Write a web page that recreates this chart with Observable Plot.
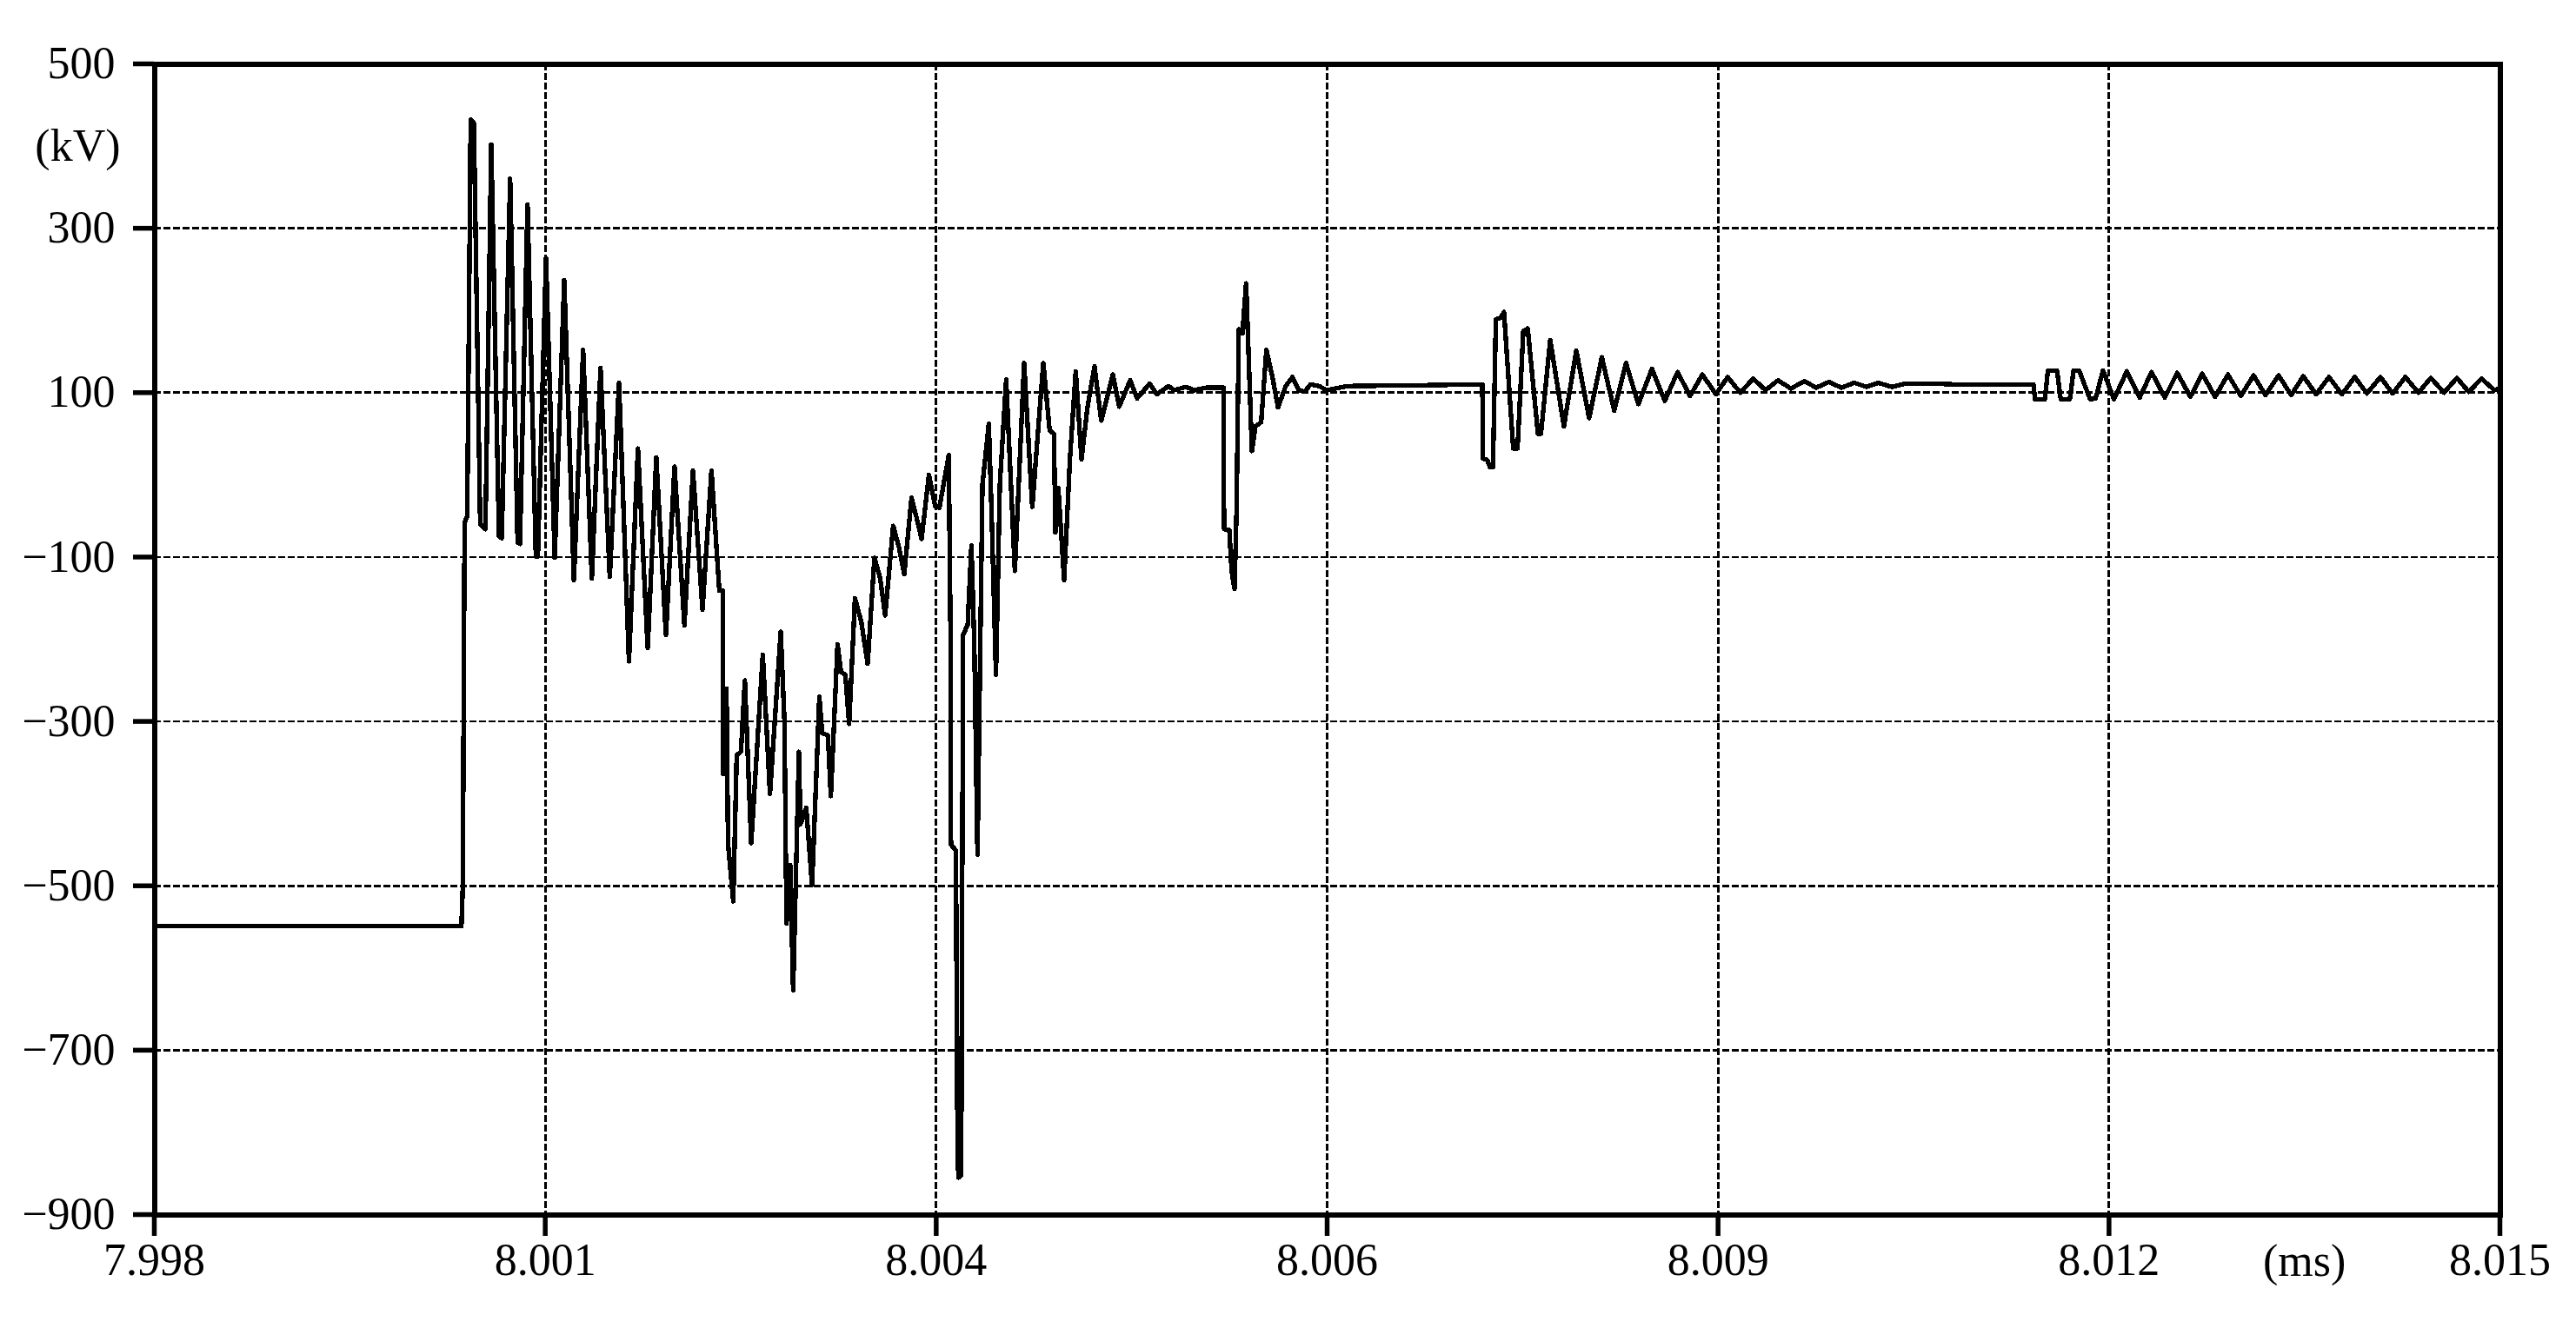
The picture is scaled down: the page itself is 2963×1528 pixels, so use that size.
<!DOCTYPE html>
<html>
<head>
<meta charset="utf-8">
<script src="https://cdn.jsdelivr.net/npm/d3@7"></script>
<script src="https://cdn.jsdelivr.net/npm/@observablehq/plot@0.6"></script>
<style>
html, body { margin: 0; padding: 0; background: #fff; }
</style>
</head>
<body>
<div id="chart"></div>
<script>
// Axis ticks
const xTicks = [7.998, 8.0008333, 8.0036667, 8.0065, 8.0093333, 8.0121667, 8.015];
const xTickLabels = ["7.998", "8.001", "8.004", "8.006", "8.009", "8.012", "8.015"];
const yTicks = [500, 300, 100, -100, -300, -500, -700, -900];

// Segment A: steady state and first oscillation burst (ms, kV)
const segA_t = [7.998, 8.000226, 8.000236, 8.000244, 8.000249, 8.000268, 8.000293, 8.000316, 8.000362, 8.000400,
  8.000442, 8.000498, 8.000518, 8.000579, 8.000633, 8.000650, 8.000705, 8.000765, 8.000780, 8.000839,
  8.000902, 8.000971, 8.001041, 8.001108, 8.001171, 8.001234, 8.001301, 8.001368, 8.001440, 8.001505,
  8.001576, 8.001638, 8.001708, 8.001770, 8.001842, 8.001904, 8.001973, 8.002038, 8.002095, 8.002120];
const segA_v = [-549, -549, -500, -210, -58, -50, 432, 428, -60, -66,
  402, -75, -77, 360, -82, -84, 329, -99, -99, 264,
  -101, 237, -128, 152, -126, 130, -124, 112, -227, 32,
  -211, 21, -195, 10, -183, 5, -164, 5, -141, -141];

// Segment B: deep negative excursion and recovery
const segB_t = [8.002124, 8.002147, 8.002158, 8.002196, 8.002221, 8.002252, 8.002280, 8.002326, 8.002410, 8.002462,
  8.002540, 8.002567, 8.002582, 8.002609, 8.002630, 8.002672, 8.002683, 8.002725, 8.002767, 8.002820,
  8.002840, 8.002882, 8.002903, 8.002952, 8.002977, 8.003008, 8.003036, 8.003078, 8.003124, 8.003170,
  8.003219, 8.003260, 8.003297, 8.003355, 8.003397, 8.003435, 8.003488, 8.003523, 8.003561, 8.003614,
  8.003660, 8.003690, 8.003758, 8.003770, 8.003774, 8.003810, 8.003818, 8.003827, 8.003848, 8.003856,
  8.003862, 8.003895, 8.003922, 8.003943, 8.003966, 8.004002, 8.004048, 8.004069, 8.004100, 8.004128,
  8.004174, 8.004237, 8.004304, 8.004363, 8.004443, 8.004489, 8.004520, 8.004531, 8.004552, 8.004594,
  8.004636, 8.004678, 8.004720, 8.004762, 8.004814, 8.004863, 8.004947, 8.004993, 8.005073, 8.005123,
  8.005213, 8.005266, 8.005350, 8.005392, 8.005476, 8.005539, 8.005623, 8.005749];
const segB_v = [-364, -260, -448, -519, -341, -337, -250, -448, -219, -388,
  -191, -300, -546, -475, -627, -337, -425, -405, -499, -270,
  -314, -317, -391, -206, -240, -243, -303, -150, -179, -230,
  -101, -125, -171, -62, -88, -121, -28, -51, -78, 0,
  -39, -40, 24, -186, -450, -457, -750, -855, -852, -469,
  -195, -182, -86, -206, -462, -12, 62, -51, -243, -12,
  116, -117, 136, -39, 136, 54, 50, -70, -16, -128,
  19, 126, 19, 81, 132, 66, 122, 83, 115, 93,
  111, 98, 108, 103, 107, 103, 106, 106];

// Segment C: second and third disturbances with ring-down
const segC_t = [8.005753, 8.005791, 8.005808, 8.005829, 8.005844, 8.005860, 8.005886, 8.005913, 8.005955, 8.005980,
  8.006022, 8.006060, 8.006106, 8.006144, 8.006200, 8.006249, 8.006295, 8.006337, 8.006379, 8.006442,
  8.006495, 8.006652, 8.007177, 8.007625, 8.007629, 8.007660, 8.007681, 8.007702, 8.007723, 8.007755,
  8.007782, 8.007849, 8.007880, 8.007922, 8.007954, 8.008028, 8.008050, 8.008117, 8.008216, 8.008306,
  8.008399, 8.008491, 8.008581, 8.008666, 8.008756, 8.008854, 8.008947, 8.009040, 8.009130, 8.009220,
  8.009318, 8.009403, 8.009495, 8.009588, 8.009678, 8.009768, 8.009861, 8.009960, 8.010044, 8.010137,
  8.010227, 8.010320, 8.010410, 8.010494, 8.010593, 8.010691, 8.010888, 8.011056, 8.011250, 8.011620];
const segC_v = [-66, -67, -117, -139, -40, 177, 172, 233, 29, 59,
  64, 152, 117, 82, 108, 119, 103, 101, 110, 108,
  103, 108, 109, 110, 20, 18, 9, 9, 189, 191,
  198, 32, 32, 175, 178, 50, 50, 164, 59, 151,
  69, 143, 78, 136, 86, 129, 90, 125, 96, 122,
  98, 119, 100, 117, 103, 115, 105, 114, 106, 113,
  106, 112, 107, 112, 107, 111, 111, 110, 110, 110];

// Segment D: final small oscillation
const segD_t = [8.011630, 8.011702, 8.011724, 8.011790, 8.011817, 8.011883, 8.011910, 8.011950, 8.012030, 8.012070,
  8.012123, 8.012203, 8.012296, 8.012389, 8.012475, 8.012571, 8.012661, 8.012757, 8.012842, 8.012936,
  8.013029, 8.013122, 8.013215, 8.013300, 8.013396, 8.013487, 8.013575, 8.013668, 8.013761, 8.013855,
  8.013948, 8.014036, 8.014134, 8.014222, 8.014315, 8.014409, 8.014499, 8.014595, 8.014688, 8.014774,
  8.014867, 8.014960, 8.015];
const segD_v = [92, 92, 127, 127, 92, 92, 127, 127, 92, 93,
  127, 92, 126, 94, 125, 94, 124, 95, 123, 95,
  122, 96, 121, 97, 121, 97, 120, 98, 119, 98,
  119, 99, 119, 99, 119, 100, 118, 100, 118, 101,
  117, 103, 105];

const toRows = (ts, vs) => ts.map((t, i) => ({t, v: vs[i]}));
const data = [
  ...toRows(segA_t, segA_v),
  ...toRows(segB_t, segB_v),
  ...toRows(segC_t, segC_v),
  ...toRows(segD_t, segD_v)
];

const labelMap = new Map(xTicks.map((d, i) => [d, xTickLabels[i]]));
const unitLabels = [
  {text: "(kV)", v: 400},
  {text: "(ms)", t: (xTicks[5] + xTicks[6]) / 2}
];

const gridStyle = {stroke: "#000", strokeOpacity: 1, strokeWidth: 2.8, strokeDasharray: "8,3", shapeRendering: "crispEdges"};

const chart = Plot.plot({
  width: 2963,
  height: 1528,
  marginLeft: 177,
  marginRight: 88,
  marginTop: 73,
  marginBottom: 131,
  style: {fontFamily: "'Liberation Serif', 'DejaVu Serif', serif", fontSize: "52px", background: "#fff", color: "#000"},
  x: {domain: [7.998, 8.015]},
  y: {domain: [-900, 500]},
  marks: [
    Plot.gridX(xTicks.slice(1, -1), gridStyle),
    Plot.gridY(yTicks.slice(1, -1), gridStyle),
    Plot.line(data, {x: "t", y: "v", stroke: "#000", strokeWidth: 5.3, shapeRendering: "crispEdges"}),
    Plot.frame({stroke: "#000", strokeWidth: 6, shapeRendering: "crispEdges"}),
    Plot.axisX(xTicks, {tickSize: 25, tickPadding: 8, strokeWidth: 5.5, tickFormat: d => labelMap.get(d), label: null, fontSize: 52}),
    Plot.axisY(yTicks, {tickSize: 24, tickPadding: 21, strokeWidth: 5.5, label: null, fontSize: 52}),
    Plot.text(unitLabels.slice(0, 1), {y: "v", text: "text", frameAnchor: "left", textAnchor: "end", dx: -39, fontSize: 52}),
    Plot.text(unitLabels.slice(1), {x: "t", text: "text", frameAnchor: "bottom", lineAnchor: "middle", dy: 54, fontSize: 52})
  ]
});
document.getElementById("chart").appendChild(chart);
</script>
</body>
</html>
